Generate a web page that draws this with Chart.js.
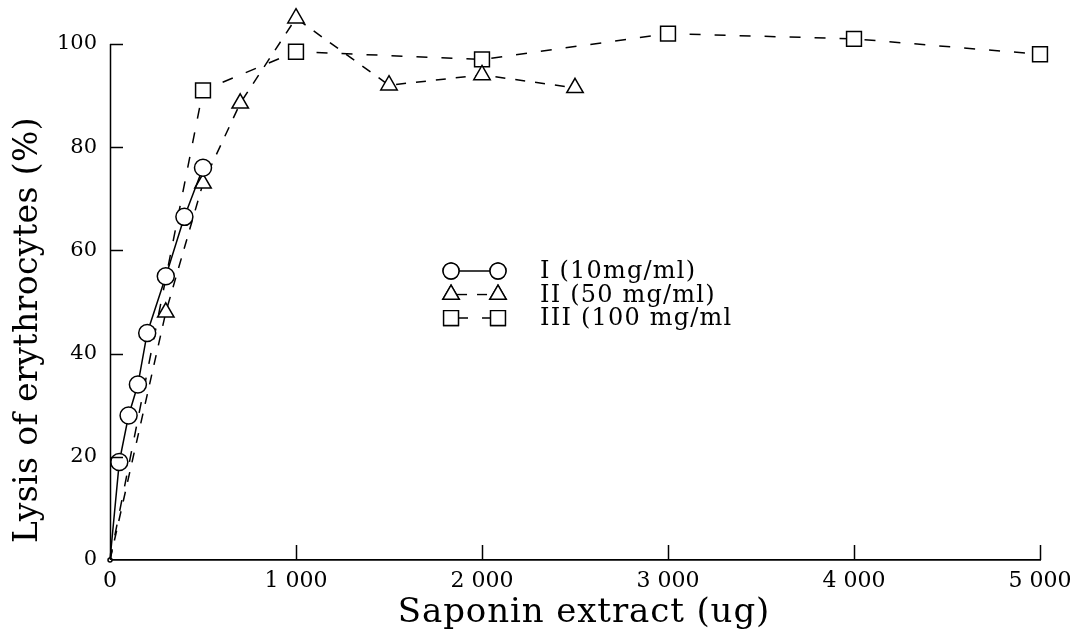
<!DOCTYPE html>
<html>
<head>
<meta charset="utf-8">
<script src="https://cdn.jsdelivr.net/npm/chart.js@4/dist/chart.umd.min.js"></script>
<style>
html,body{margin:0;padding:0;background:#fff;}
#wrap{width:1081px;height:638px;}
</style>
</head>
<body>
<div id="wrap"><canvas id="c" width="1081" height="638"></canvas></div>
<script>
// Series I (10 mg/ml)
const xValsI = [0, 50, 100, 150, 200, 300, 400, 500];
const lysisI = [0, 19, 28, 34, 44, 55, 66.5, 76];
// Series II (50 mg/ml)
const xValsII = [0, 300, 500, 700, 1000, 1500, 2000, 2500];
const lysisII = [0, 48, 73, 88.5, 105, 92, 94, 91.5];
// Series III (100 mg/ml)
const xValsIII = [0, 500, 1000, 2000, 3000, 4000, 5000];
const lysisIII = [0, 91, 98.5, 97, 102, 101, 98];

const seriesLabels = ['I (10mg/ml)', 'II (50 mg/ml)', 'III (100 mg/ml'];
const xTicks = [0, 1000, 2000, 3000, 4000, 5000];
const xTickLabels = ['0', '1 000', '2 000', '3 000', '4 000', '5 000'];
const yTicks = [0, 20, 40, 60, 80, 100];
const yAxisTop = 100;
const xTitle = 'Saponin extract (ug)';
const yTitle = 'Lysis of erythrocytes (%)';

const toPts = (xs, ys) => xs.map((x, i) => ({x: x, y: ys[i]}));

const axesAndTicks = {
  id: 'axesAndTicks',
  afterDraw(chart) {
    const ctx = chart.ctx;
    const xs = chart.scales.x, ys = chart.scales.y;
    ctx.save();
    ctx.strokeStyle = '#000';
    ctx.lineWidth = 1.5;
    // y axis line from 0 to 100 only
    ctx.beginPath();
    ctx.moveTo(xs.left + 0.5, ys.getPixelForValue(0));
    ctx.lineTo(xs.left + 0.5, ys.getPixelForValue(yAxisTop));
    ctx.stroke();
    yTicks.forEach(v => {
      if (v === 0) return;
      const py = Math.round(ys.getPixelForValue(v)) + 0.5;
      ctx.beginPath();
      ctx.moveTo(xs.left, py);
      ctx.lineTo(xs.left + 13, py);
      ctx.stroke();
    });
    xTicks.forEach(v => {
      if (v === 0) return;
      const px = Math.round(xs.getPixelForValue(v)) + 0.5;
      ctx.beginPath();
      ctx.moveTo(px, ys.bottom);
      ctx.lineTo(px, ys.bottom - 15);
      ctx.stroke();
    });
    // axis titles
    ctx.fillStyle = '#000';
    ctx.textAlign = 'center';
    ctx.textBaseline = 'middle';
    ctx.font = '34px "DejaVu Serif"';
    try { ctx.letterSpacing = '0.9px'; } catch (e) {}
    ctx.fillText(xTitle, (xs.left + xs.right) / 2 + 9, chart.height - 25);
    ctx.font = '33px "DejaVu Serif"';
    try { ctx.letterSpacing = '0.4px'; } catch (e) {}
    const yMid = (ys.getPixelForValue(0) + ys.getPixelForValue(yAxisTop)) / 2 + 28;
    ctx.translate(28, yMid);
    ctx.rotate(-Math.PI / 2);
    ctx.fillText(yTitle, 0, 0);
    ctx.restore();
  }
};

const customLegend = {
  id: 'customLegend',
  afterDraw(chart) {
    const ctx = chart.ctx;
    const a = chart.chartArea;
    const w = a.right - a.left, h = a.bottom - a.top;
    const x1 = a.left + w * 0.3667;
    const x2 = a.left + w * 0.4172;
    const tx = a.left + w * 0.4624;
    const y0 = a.top + h * 0.4717;
    const dy = h * 0.043;
    const radii = {circle: 8, triangle: 9.5, rect: 10.5};
    ctx.save();
    chart.data.datasets.forEach((ds, i) => {
      const y = y0 + i * dy;
      ctx.strokeStyle = '#000';
      ctx.lineWidth = 1.4;
      ctx.setLineDash(ds.borderDash || []);
      ctx.lineDashOffset = -6;
      ctx.beginPath();
      ctx.moveTo(x1, y);
      ctx.lineTo(x2, y);
      ctx.stroke();
      ctx.setLineDash([]);
      ctx.fillStyle = '#fff';
      const opts = {pointStyle: ds.pointStyle, radius: radii[ds.pointStyle], rotation: 0, borderWidth: 1.4};
      Chart.helpers.drawPoint(ctx, opts, x1, y); ctx.fill(); ctx.stroke();
      Chart.helpers.drawPoint(ctx, opts, x2, y); ctx.fill(); ctx.stroke();
      ctx.fillStyle = '#000';
      ctx.font = '24px "DejaVu Serif"';
      try { ctx.letterSpacing = '1.2px'; } catch (e) {}
      ctx.textBaseline = 'middle';
      ctx.fillText(ds.label, tx, y + 1);
      try { ctx.letterSpacing = '0px'; } catch (e) {}
    });
    ctx.restore();
  }
};

new Chart(document.getElementById('c'), {
  type: 'line',
  data: {
    datasets: [
      {
        label: seriesLabels[0],
        data: toPts(xValsI, lysisI),
        borderColor: '#000', borderWidth: 1.5,
        pointStyle: 'circle',
        pointRadius: xValsI.map((x, i) => i === 0 ? 2 : 8.5),
        pointBorderColor: '#000', pointBackgroundColor: '#fff', pointBorderWidth: 1.5,
        clip: false, tension: 0
      },
      {
        label: seriesLabels[1],
        data: toPts(xValsII, lysisII),
        borderColor: '#000', borderWidth: 1.5, borderDash: [10, 10],
        pointStyle: 'triangle',
        pointRadius: xValsII.map((x, i) => i === 0 ? 0 : 9.5),
        pointBorderColor: '#000', pointBackgroundColor: '#fff', pointBorderWidth: 1.5,
        clip: false, tension: 0
      },
      {
        label: seriesLabels[2],
        data: toPts(xValsIII, lysisIII),
        borderColor: '#000', borderWidth: 1.5, borderDash: [11, 14],
        pointStyle: 'rect',
        pointRadius: xValsIII.map((x, i) => i === 0 ? 0 : 10.5),
        pointBorderColor: '#000', pointBackgroundColor: '#fff', pointBorderWidth: 1.5,
        clip: false, tension: 0
      }
    ]
  },
  options: {
    responsive: false,
    animation: false,
    layout: {padding: {top: 13, right: 41, left: 0, bottom: 0}},
    plugins: {legend: {display: false}, tooltip: {enabled: false}},
    scales: {
      x: {
        type: 'linear', min: 0, max: 5000,
        afterBuildTicks: s => { s.ticks = xTicks.map(v => ({value: v})); },
        afterFit: s => { s.height = 78; s.paddingLeft = 0; s.paddingRight = 0; },
        ticks: {
          color: '#000', padding: 8, maxRotation: 0, autoSkip: false,
          font: {family: '"DejaVu Serif"', size: 22},
          callback: (v) => { const i = xTicks.indexOf(v); return i >= 0 ? xTickLabels[i] : ''; }
        },
        grid: {display: true, drawOnChartArea: false, drawTicks: false},
        border: {display: true, color: '#000', width: 1.8},
        title: {display: false}
      },
      y: {
        type: 'linear', min: 0, max: 106,
        afterBuildTicks: s => { s.ticks = yTicks.map(v => ({value: v})); },
        afterFit: s => { s.width = 110; s.paddingTop = 0; s.paddingBottom = 0; },
        ticks: {
          color: '#000', padding: 13,
          font: {family: '"DejaVu Serif"', size: 21}
        },
        grid: {display: false, drawOnChartArea: false, drawTicks: false},
        border: {display: false},
        title: {display: false}
      }
    }
  },
  plugins: [axesAndTicks, customLegend]
});
</script>
</body>
</html>
